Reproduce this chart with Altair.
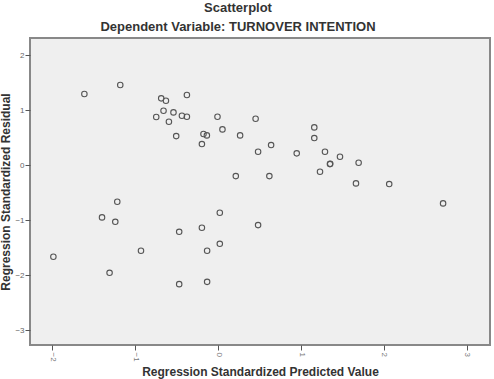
import altair as alt
import pandas as pd

pred = [-1.614, -1.181, -0.687, -0.630, -0.377, -0.659, -0.539, -0.747, -0.437, -0.377,
        -0.594, -0.506, -0.177, -0.136, -0.196, -0.008, 0.052, 0.265, 0.452, 0.482,
        0.213, -1.217, -1.401, -1.241, -0.470, -0.196, 0.020, 0.482, -1.988, -0.931,
        -0.133, 0.020, -1.310, -0.470, -0.133, 0.639, 0.948, 1.160, 1.160, 1.289,
        1.470, 1.349, 1.229, 1.695, 0.618, 1.663, 2.064, 2.714, 1.352]
resid = [1.291, 1.455, 1.213, 1.169, 1.273, 0.987, 0.958, 0.873, 0.896, 0.878,
         0.787, 0.527, 0.564, 0.540, 0.382, 0.878, 0.649, 0.540, 0.842, 0.242,
         -0.200, -0.667, -0.951, -1.031, -1.213, -1.140, -0.867, -1.091, -1.667, -1.558,
         -1.558, -1.431, -1.958, -2.164, -2.122, 0.364, 0.213, 0.685, 0.491, 0.242,
         0.151, 0.018, -0.122, 0.042, -0.200, -0.333, -0.345, -0.696, 0.025]

x_ticks = [-2, -1, 0, 1, 2, 3]
y_ticks = [2, 1, 0, -1, -2, -3]

df = pd.DataFrame({"pred": pred, "resid": resid})

chart = alt.Chart(df).mark_point(
    shape="circle", filled=False, size=30, stroke="#555555", strokeWidth=1.1, opacity=1
).encode(
    x=alt.X("pred:Q",
            scale=alt.Scale(domain=[-2.27, 3.28], nice=False, zero=False),
            axis=alt.Axis(values=x_ticks, title="Regression Standardized Predicted Value",
                          grid=False, domain=False, tickSize=5, tickColor="#555555",
                          labelAngle=90, labelFontSize=8, labelColor="#777777",
                          labelFont="Arial", titleFont="Arial", titleFontSize=12,
                          titleFontWeight="bold", titleColor="#333333", titlePadding=5,
                          labelPadding=2)),
    y=alt.Y("resid:Q",
            scale=alt.Scale(domain=[-3.27, 2.31], nice=False, zero=False),
            axis=alt.Axis(values=y_ticks, title="Regression Standardized Residual",
                          grid=False, domain=False, tickSize=5, tickColor="#555555",
                          labelFontSize=8, labelColor="#666666", labelFont="Arial",
                          titleFont="Arial", titleFontSize=12, titleFontWeight="bold",
                          titleColor="#333333", titlePadding=2, labelPadding=1)),
).properties(
    width=460,
    height=307,
    title=alt.TitleParams(
        text="Scatterplot",
        subtitle="Dependent Variable: TURNOVER INTENTION",
        font="Arial", fontSize=13, fontWeight="bold", color="#333333",
        subtitleFont="Arial", subtitleFontSize=13, subtitleFontWeight="bold",
        subtitleColor="#333333", subtitlePadding=6, offset=4, anchor="middle", dx=-22,
    ),
    autosize=alt.AutoSizeParams(type="none"),
    padding={"left": 30, "top": 38, "right": 4, "bottom": 34},
    background="white",
).configure_view(
    fill="#efefef", stroke="#888888", strokeWidth=2
)

chart.save("out.html", embed_options={"renderer": "svg", "actions": False})
